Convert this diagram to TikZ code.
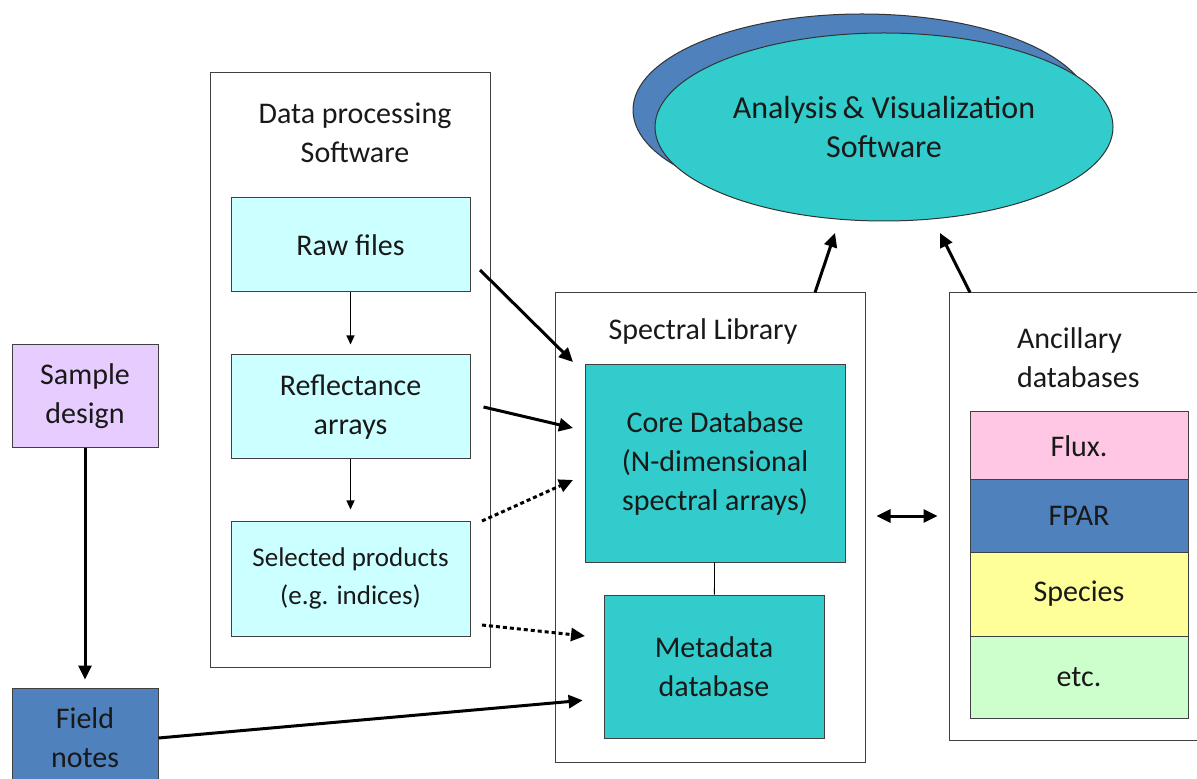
\documentclass[tikz,border=0pt]{standalone}
\usepackage{fontspec}
\setmainfont{Carlito}
\usepackage{xcolor}
\usetikzlibrary{shapes.geometric,arrows.meta}
\definecolor{rawcyan}{HTML}{CCFFFF}
\definecolor{coreteal}{HTML}{33CCCC}
\definecolor{officeblue}{HTML}{4F81BD}
\definecolor{lavender}{HTML}{E6CCFF}
\definecolor{fluxpink}{HTML}{FFC7E3}
\definecolor{specyellow}{HTML}{FFFF99}
\definecolor{etcgreen}{HTML}{CCFFCC}
\tikzset{
  frame/.style={draw=black!75, line width=0.5pt, inner sep=0pt},
  cell/.style={frame, align=center},
  fat/.style={line width=1.5pt, -{Triangle[length=7pt,width=6.5pt]}},
  thin/.style={line width=0.6pt, -{Triangle[length=4.5pt,width=4pt]}},
  dots/.style={fat, dash pattern=on 2pt off 1.5pt},
}

\begin{document}
\begin{tikzpicture}[x=0.5pt, y=-0.5pt, font=\fontsize{15}{19.5}\selectfont, text=black!90]
\useasboundingbox (0,0) rectangle (1197,779);

\node[ellipse, draw=black!80, line width=0.5pt, fill=officeblue, minimum width=229pt, minimum height=96pt] at (862,110) (anaback) {};
\node[ellipse, draw=black!80, line width=0.5pt, fill=coreteal, minimum width=229pt, minimum height=94pt, align=center, font=\fontsize{16}{19.5}\selectfont] at (884,127) (ana) {Analysis\,\& Visualization\\Software};

\node[frame, minimum width=140pt, minimum height=297pt] at (350,370) (dps) {};
\node[align=center] at (355,133) (dpstitle) {Data processing\\Software};
\node[cell, fill=rawcyan, minimum width=119.5pt, minimum height=47pt] at (350.5,245) (raw) {Raw files};
\node[cell, fill=rawcyan, minimum width=119.5pt, minimum height=52pt] at (350.5,407) (refl) {Reflectance\\arrays};
\node[cell, fill=rawcyan, minimum width=119.5pt, minimum height=57.5pt, font=\fontsize{13.5}{19}\selectfont] at (350.5,578.5) (sel) {Selected products\\(e.g. indices)};

\node[frame, minimum width=155pt, minimum height=234.5pt] at (710,527.5) (speclib) {};
\node at (703,332) (spectitle) {Spectral Library};
\node[cell, fill=coreteal, minimum width=130pt, minimum height=98.5pt] at (715,463.5) (core) {Core Database\\(N-dimensional\\spectral arrays)};
\node[cell, fill=coreteal, minimum width=110pt, minimum height=71.5pt] at (714,666.5) (meta) {Metadata\\database};

\node[frame, minimum width=124pt, minimum height=223.5pt] at (1073,516.5) (anc) {};
\node[align=left, anchor=west] at (1010,358) (anctitle) {Ancillary\\databases};
\node[cell, fill=fluxpink, minimum width=109pt, minimum height=34pt] at (1079,446) (flux) {Flux.};
\node[cell, fill=officeblue, minimum width=109pt, minimum height=36pt] at (1079,516) (fpar) {FPAR};
\node[cell, fill=specyellow, minimum width=109pt, minimum height=42pt] at (1079,594) (species) {Species};
\node[cell, fill=etcgreen, minimum width=109pt, minimum height=41pt] at (1079,677) (etc) {etc.};

\node[cell, fill=lavender, minimum width=73pt, minimum height=51.5pt] at (85,396.5) (sample) {Sample\\design};
\node[cell, fill=officeblue, minimum width=73pt, minimum height=50pt] at (85,738) (field) {Field\\notes};

\coordinate (rawout) at (480,270);
\coordinate (corein1) at (573,362);
\coordinate (corein2) at (573,428);
\coordinate (selout1) at (482,521);
\coordinate (corein3) at (573,480);
\coordinate (selout2) at (482,625);
\coordinate (metain1) at (585,636);
\coordinate (anain1) at (835,233);
\coordinate (anain2) at (940,233);

\draw[thin, shorten >=5pt] (raw) -- (refl);
\draw[thin, shorten >=5.5pt] (refl) -- (sel);
\draw[fat] (rawout) -- (corein1);
\draw[fat] ([xshift=6.5pt]refl.east) -- (corein2);
\draw[dots] (selout1) -- (corein3);
\draw[dots] (selout2) -- (metain1);
\draw (core) -- (meta);
\draw[fat, shorten >=4pt] (sample) -- (field);
\draw[fat, shorten >=10.5pt] (field.east) -- ([yshift=-16pt]meta.west);
\draw[fat] ([xshift=52.5pt]speclib.north) -- (anain1);
\draw[fat] ([xshift=-51.5pt]anc.north) -- (anain2);
\draw[fat, {Triangle[length=7pt,width=6.5pt]}-{Triangle[length=7pt,width=6.5pt]}, shorten <=5.5pt, shorten >=5.5pt] (speclib.east |- fpar.west) -- (anc.west |- fpar.west);
\end{tikzpicture}
\end{document}
